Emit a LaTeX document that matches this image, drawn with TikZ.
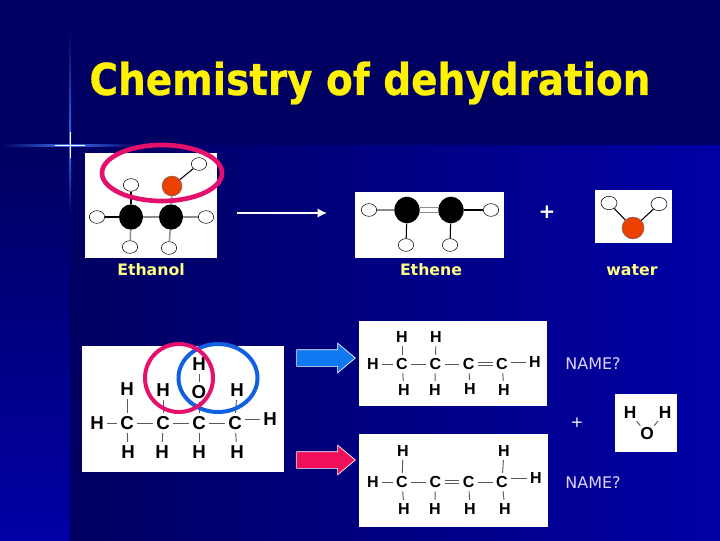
\documentclass[tikz,border=0pt]{standalone}
\usepackage{xcolor}
\usepackage{fontspec}
\usepackage{tikz}
\usetikzlibrary{shapes.arrows, shapes.geometric, arrows.meta}
\setmainfont{DejaVu Sans}
\newfontfamily\atomfont{Liberation Sans}
\newfontfamily\titlefont[FakeStretch=0.885, BoldFeatures={FakeBold=0.6, FakeStretch=0.885}]{DejaVu Sans}

\definecolor{slidedark}{RGB}{0,0,98}
\definecolor{slidemain}{RGB}{0,0,165}
\definecolor{hilitepink}{RGB}{228,16,108}
\definecolor{hiliteblue}{RGB}{16,96,224}
\definecolor{arrowpink}{RGB}{240,16,90}
\definecolor{arrowblue}{RGB}{16,120,240}
\definecolor{oxygen}{RGB}{236,64,0}
\definecolor{labelyellow}{RGB}{255,255,130}
\definecolor{labellilac}{RGB}{226,210,255}
\definecolor{starblue}{RGB}{60,110,240}

\tikzset{
    panel/.style={fill=white, draw=none},
    hatom/.style={ellipse, draw=black, fill=white, line width=0.4pt, inner sep=0pt, minimum width=11.5pt, minimum height=9.5pt},
    catom/.style={ellipse, fill=black, inner sep=0pt, minimum width=18pt, minimum height=19pt},
    oatom/.style={circle, draw=black!60, fill=oxygen, line width=0.3pt, inner sep=0pt, minimum size=15pt},
    stick/.style={line width=0.8pt, black},
    greystick/.style={line width=1.1pt, black!45},
    letter/.style={font=\atomfont\bfseries\fontsize{14}{15}\selectfont, text=black, inner sep=1.5pt},
    smallletter/.style={font=\atomfont\bfseries\fontsize{12}{13}\selectfont, text=black, inner sep=1.5pt},
    lbond/.style={line width=0.7pt, black!65, shorten >=1pt, shorten <=1pt},
    slidelabel/.style={font=\fontsize{11.8}{13}\selectfont\bfseries, text=labelyellow},
    namelabel/.style={font=\fontsize{12}{13}\selectfont, text=labellilac},
    bigarrow/.style={single arrow, draw=white, line width=0.5pt, inner sep=0pt, minimum width=21.75pt, minimum height=44pt, single arrow head extend=4.9pt, single arrow tip angle=80},
}

\begin{document}
\begin{tikzpicture}[x=0.75pt, y=-0.75pt, node distance=25pt]
    \useasboundingbox (0,0) rectangle (720,540);
    % background
    \fill[slidedark] (0,0) rectangle (720,540);
    \shade[left color=slidedark, right color=slidemain] (70,145) rectangle (720,540);
    \shade[top color=slidedark, bottom color=slidemain] (0,145) rectangle (70,540);
    \shade[left color=slidedark, right color=starblue] (0,144) rectangle (70,146);
    \shade[left color=starblue, right color=slidedark] (70,144) rectangle (135,146);
    \shade[top color=slidedark, bottom color=starblue] (69,30) rectangle (71,145);
    \shade[top color=starblue, bottom color=slidedark] (69,145) rectangle (71,215);
    \fill[white] (55,144.5) rectangle (85,145.5);
    \fill[white] (69.5,132) rectangle (70.5,158);

    \node[font=\titlefont\bfseries\fontsize{33}{36}\selectfont, text=yellow] (title) at (370,83) {Chemistry of dehydration};

    % ethanol model
    \fill[panel] (85,153) rectangle (217,258);
    \node[catom] (c1) at (131,217) {};
    \node[catom] (c2) at (171,217) {};
    \node[oatom] (o) at (172,186) {};
    \node[hatom] (h1) at (97,217) {};
    \node[hatom] (h2) at (131,185) {};
    \node[hatom] (h3) at (130,247) {};
    \node[hatom] (h4) at (169,248) {};
    \node[hatom] (h5) at (206,217) {};
    \node[hatom] (h6) at (199,164) {};
    \draw[stick] (h1) -- (c1);
    \draw[stick] (h2) -- (c1);
    \draw[greystick] (h3) -- (c1);
    \draw[greystick] (c1) -- (c2);
    \draw[greystick] (h4) -- (c2);
    \draw[greystick] (h5) -- (c2);
    \draw[greystick] (o) -- (c2);
    \draw[stick] (o) -- (h6);
    \draw[hilitepink, line width=3.5pt] (162,173) ellipse (60 and 28);
    \node[slidelabel] (ethanol) at (151,270) {Ethanol};

    \node[inner sep=0pt] (from) at (236,213) {};
    \node[inner sep=0pt] (to) at (328,213) {};
    \draw[white, line width=1.7pt, -{Latex[length=7pt, width=7pt]}] (from) -- (to);

    % ethene model
    \fill[panel] (355,192) rectangle (504,258);
    \node[catom, minimum width=19pt, minimum height=20pt] (c3) at (407,210) {};
    \node[catom, minimum width=19pt, minimum height=20pt] (c4) at (451,210) {};
    \node[hatom] (h7) at (369,210) {};
    \node[hatom] (h8) at (491,210) {};
    \node[hatom] (h9) at (406,245) {};
    \node[hatom] (h10) at (450,245) {};
    \draw[greystick] (h7) -- (c3);
    \draw[stick] (c4) -- (h8);
    \draw[stick] (c3) -- (h9);
    \draw[stick] (c4) -- (h10);
    \draw[greystick, line width=0.7pt] ([yshift=1.6pt]c3.east) -- ([yshift=1.6pt]c4.west);
    \draw[greystick, line width=0.7pt] ([yshift=-1.6pt]c3.east) -- ([yshift=-1.6pt]c4.west);
    \node[slidelabel] (ethene) at (431,270) {Ethene};
    \node[font=\fontsize{15}{16}\selectfont\bfseries, text=white] (plus1) at (547,212) {+};

    % water model
    \fill[panel] (595,190) rectangle (672,243);
    \node[oatom, minimum size=16.5pt] (o2) at (633,228) {};
    \node[hatom, minimum width=12pt, minimum height=10pt] (h11) at (609,203) {};
    \node[hatom, minimum width=12pt, minimum height=10pt] (h12) at (659,204) {};
    \draw[stick] (h11) -- (o2);
    \draw[stick] (h12) -- (o2);
    \node[slidelabel] (water) at (632,270) {water};

    % alcohol formula
    \fill[panel] (82,346) rectangle (284,472);
    \begin{scope}[node distance=27pt]
    \node[letter] (ac1) at (127,423) {C};
    \node[letter, right of=ac1] (ac2) {C};
    \node[letter, right of=ac2] (ac3) {C};
    \node[letter, right of=ac3] (ac4) {C};
    \node[letter] (ah1) at (97,423) {H};
    \node[letter] (ah2) at (270,419) {H};
    \node[letter] (ah3) at (127,389) {H};
    \node[letter] (ah4) at (163,390) {H};
    \node[letter] (ao) at (199,392) {O};
    \node[letter] (ah5) at (199,364) {H};
    \node[letter] (ah6) at (237,390) {H};
    \node[letter] (ah7) at (128,452) {H};
    \node[letter] (ah8) at (162,452) {H};
    \node[letter] (ah9) at (199,452) {H};
    \node[letter] (ah10) at (237,452) {H};
    \end{scope}
    \foreach \a/\b in {ah1/ac1, ac1/ac2, ac2/ac3, ac3/ac4, ah3/ac1, ah4/ac2, ao/ac3, ah5/ao, ah6/ac4, ac1/ah7, ac2/ah8, ac3/ah9, ac4/ah10}
        \draw[lbond] (\a) -- (\b);
    \draw[lbond] (ac4.east |- ah2.west) -- (ah2.west);
    \draw[hiliteblue, line width=3pt] (218,378) ellipse (39.5 and 34);
    \draw[hilitepink, line width=3pt] (179,378) circle (34);

    % arrows
    \node[bigarrow, fill=arrowblue] (bluearrow) at (321,358) {\rule{0pt}{12pt}};
    \node[bigarrow, fill=arrowpink] (pinkarrow) at (321,460) {\rule{0pt}{12pt}};

    % but-1-ene
    \fill[panel] (359,321) rectangle (547,406);
    \node[smallletter] (bc1) at (402,364) {C};
    \node[smallletter, right of=bc1] (bc2) {C};
    \node[smallletter, right of=bc2] (bc3) {C};
    \node[smallletter, right of=bc3] (bc4) {C};
    \node[smallletter] (bh1) at (373,364) {H};
    \node[smallletter] (bh2) at (535,362) {H};
    \node[smallletter] (bh3) at (402,337) {H};
    \node[smallletter] (bh4) at (436,337) {H};
    \node[smallletter] (bh5) at (404,390) {H};
    \node[smallletter] (bh6) at (435,390) {H};
    \node[smallletter] (bh7) at (470,389) {H};
    \node[smallletter] (bh8) at (504,390) {H};
    \foreach \a/\b in {bh1/bc1, bc1/bc2, bc2/bc3, bh3/bc1, bh4/bc2, bc1/bh5, bc2/bh6, bc3/bh7, bc4/bh8}
        \draw[lbond] (\a) -- (\b);
    \draw[lbond] (bc4.east |- bh2.west) -- (bh2.west);
    \draw[lbond] ([yshift=1.2pt]bc3.east) -- ([yshift=1.2pt]bc4.west);
    \draw[lbond] ([yshift=-1.2pt]bc3.east) -- ([yshift=-1.2pt]bc4.west);

    % but-2-ene
    \fill[panel] (359,434) rectangle (548,527);
    \node[smallletter] (dc1) at (402,482) {C};
    \node[smallletter, right of=dc1] (dc2) {C};
    \node[smallletter, right of=dc2] (dc3) {C};
    \node[smallletter, right of=dc3] (dc4) {C};
    \node[smallletter] (dh1) at (373,482) {H};
    \node[smallletter] (dh2) at (536,478) {H};
    \node[smallletter] (dh3) at (403,451) {H};
    \node[smallletter] (dh4) at (504,451) {H};
    \node[smallletter] (dh5) at (404,509) {H};
    \node[smallletter] (dh6) at (435,509) {H};
    \node[smallletter] (dh7) at (470,509) {H};
    \node[smallletter] (dh8) at (505,509) {H};
    \foreach \a/\b in {dh1/dc1, dc1/dc2, dc3/dc4, dh3/dc1, dh4/dc4, dc1/dh5, dc2/dh6, dc3/dh7, dc4/dh8}
        \draw[lbond] (\a) -- (\b);
    \draw[lbond] (dc4.east |- dh2.west) -- (dh2.west);
    \draw[lbond] ([yshift=1.2pt]dc2.east) -- ([yshift=1.2pt]dc3.west);
    \draw[lbond] ([yshift=-1.2pt]dc2.east) -- ([yshift=-1.2pt]dc3.west);

    \node[namelabel] (name1) at (593,364) {NAME?};
    \node[namelabel] (name2) at (593,483) {NAME?};
    \node[font=\fontsize{11.5}{13}\selectfont, text=white] (plus2) at (577,423) {+};

    % water formula
    \fill[panel] (615,394) rectangle (677,452);
    \node[smallletter, font=\atomfont\bfseries\fontsize{13}{14}\selectfont] (wo) at (647,434) {O};
    \node[smallletter, font=\atomfont\bfseries\fontsize{13}{14}\selectfont] (wh1) at (630,413) {H};
    \node[smallletter, font=\atomfont\bfseries\fontsize{13}{14}\selectfont] (wh2) at (665,413) {H};
    \draw[lbond, shorten <=0pt, shorten >=0pt] (wh1) -- (wo);
    \draw[lbond, shorten <=0pt, shorten >=0pt] (wh2) -- (wo);
\end{tikzpicture}
\end{document}
